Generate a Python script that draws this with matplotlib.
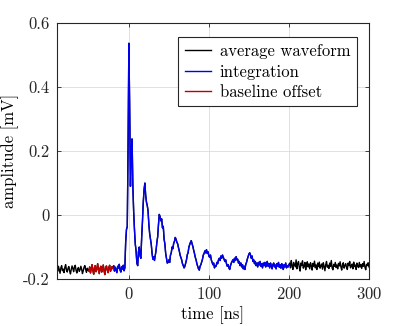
import numpy as np
import matplotlib
matplotlib.use('Agg')
import matplotlib.pyplot as plt

# sampled average waveform, 1 ns steps starting at t0
t0 = -90.0
dt = 1.0

amp_pre = [  # -90 .. -51 ns
    -0.168, -0.176, -0.160, -0.171, -0.182, -0.165, -0.158, -0.174, -0.169, -0.180,
    -0.163, -0.155, -0.172, -0.178, -0.166, -0.161, -0.175, -0.184, -0.170, -0.159,
    -0.167, -0.177, -0.162, -0.157, -0.173, -0.181, -0.168, -0.164, -0.176, -0.171,
    -0.160, -0.169, -0.183, -0.174, -0.163, -0.158, -0.170, -0.179, -0.166, -0.172,
]
amp_offset = [  # -50 .. -21 ns
    -0.175, -0.162, -0.181, -0.168, -0.155, -0.173, -0.185, -0.164, -0.158, -0.177,
    -0.170, -0.152, -0.169, -0.183, -0.166, -0.160, -0.178, -0.171, -0.156, -0.174,
    -0.186, -0.165, -0.159, -0.172, -0.180, -0.163, -0.157, -0.176, -0.168, -0.161,
]
amp_lead = [  # -20 .. -6 ns
    -0.167, -0.158, -0.175, -0.163, -0.171, -0.180, -0.160, -0.166, -0.154, -0.172,
    -0.178, -0.162, -0.169, -0.157, -0.174,
]
amp_pulse = [  # -5 .. 200 ns
    -0.165, -0.085, -0.045, -0.036, 0.210, 0.537, 0.340, 0.090, 0.205, 0.238,
    0.090, 0.010, -0.045, -0.090, -0.112, -0.150, -0.158, -0.115, -0.100, -0.128,
    -0.135, -0.070, -0.020, 0.040, 0.080, 0.100, 0.062, 0.040, 0.030, 0.012,
    -0.030, -0.058, -0.075, -0.092, -0.120, -0.138, -0.130, -0.142, -0.125, -0.110,
    -0.085, -0.068, -0.030, 0.002, -0.005, -0.018, -0.012, -0.040, -0.035, -0.075,
    -0.090, -0.120, -0.135, -0.150, -0.148, -0.140, -0.148, -0.125, -0.118, -0.100,
    -0.105, -0.088, -0.082, -0.070, -0.076, -0.085, -0.090, -0.102, -0.112, -0.125,
    -0.132, -0.140, -0.152, -0.158, -0.165, -0.160, -0.150, -0.140, -0.124, -0.118,
    -0.100, -0.092, -0.085, -0.080, -0.090, -0.098, -0.110, -0.120, -0.132, -0.140,
    -0.152, -0.160, -0.168, -0.172, -0.160, -0.155, -0.146, -0.138, -0.125, -0.120,
    -0.112, -0.118, -0.108, -0.120, -0.115, -0.128, -0.132, -0.125, -0.140, -0.148,
    -0.155, -0.150, -0.165, -0.158, -0.160, -0.148, -0.152, -0.140, -0.135, -0.142,
    -0.128, -0.135, -0.125, -0.132, -0.138, -0.145, -0.140, -0.152, -0.160, -0.155,
    -0.165, -0.170, -0.158, -0.150, -0.145, -0.140, -0.148, -0.135, -0.142, -0.130,
    -0.140, -0.138, -0.150, -0.145, -0.158, -0.150, -0.162, -0.155, -0.168, -0.160,
    -0.170, -0.155, -0.148, -0.138, -0.130, -0.122, -0.118, -0.125, -0.135, -0.128,
    -0.145, -0.140, -0.152, -0.145, -0.158, -0.150, -0.162, -0.148, -0.156, -0.145,
    -0.160, -0.152, -0.165, -0.150, -0.158, -0.148, -0.162, -0.155, -0.145, -0.160,
    -0.152, -0.165, -0.150, -0.158, -0.168, -0.155, -0.150, -0.162, -0.156, -0.168,
    -0.152, -0.160, -0.148, -0.163, -0.155, -0.166, -0.152, -0.160, -0.170, -0.155,
    -0.162, -0.150, -0.165, -0.158, -0.162, -0.155,
]
amp_tail = [  # 201 .. 300 ns
    -0.150, -0.165, -0.142, -0.158, -0.170, -0.148, -0.155, -0.162, -0.140, -0.168,
    -0.152, -0.145, -0.163, -0.175, -0.150, -0.158, -0.143, -0.166, -0.160, -0.148,
    -0.171, -0.155, -0.146, -0.162, -0.153, -0.168, -0.149, -0.158, -0.172, -0.151,
    -0.160, -0.144, -0.165, -0.156, -0.170, -0.150, -0.161, -0.147, -0.166, -0.158,
    -0.153, -0.169, -0.149, -0.160, -0.174, -0.155, -0.145, -0.163, -0.157, -0.167,
    -0.150, -0.160, -0.142, -0.165, -0.171, -0.154, -0.160, -0.148, -0.164, -0.156,
    -0.168, -0.151, -0.159, -0.146, -0.162, -0.172, -0.155, -0.149, -0.166, -0.158,
    -0.152, -0.163, -0.170, -0.150, -0.158, -0.145, -0.165, -0.160, -0.153, -0.168,
    -0.147, -0.161, -0.156, -0.170, -0.150, -0.159, -0.164, -0.148, -0.162, -0.155,
    -0.167, -0.152, -0.160, -0.145, -0.163, -0.171, -0.154, -0.158, -0.149, -0.162,
]

offset_window = (-50, -20)
integ_window = (-20, 200)

amp = np.array(amp_pre + amp_offset + amp_lead + amp_pulse + amp_tail)
t = t0 + dt * np.arange(len(amp))

plt.rcParams['font.family'] = 'serif'
plt.rcParams['font.serif'] = ['cmr10']
plt.rcParams['mathtext.fontset'] = 'cm'
plt.rcParams['axes.formatter.use_mathtext'] = True
plt.rcParams['font.size'] = 12

fig = plt.figure(figsize=(4.09, 3.26), dpi=100)
ax = fig.add_axes([0.139, 0.144, 0.763, 0.785])

m_off = (t >= offset_window[0]) & (t <= offset_window[1])
m_int = (t >= integ_window[0]) & (t <= integ_window[1])

ax.plot(t, amp, color='k', lw=1.0, label='average waveform')
ax.plot(t[m_int], amp[m_int], color='#0000ee', lw=1.0, label='integration')
ax.plot(t[m_off], amp[m_off], color='#c00000', lw=1.0, label='baseline offset')

ax.set_xlim(-90, 300)
ax.set_ylim(-0.2, 0.6)
ax.set_xticks([0, 100, 200, 300])
ax.set_yticks([-0.2, 0, 0.2, 0.4, 0.6])
ax.set_yticklabels(['-0.2', '0', '0.2', '0.4', '0.6'])
ax.grid(True, color='#dcdcdc', lw=0.6)
ax.set_axisbelow(True)
ax.tick_params(direction='in', top=True, right=True, length=3, width=0.6, colors='#262626', pad=5)
for s in ax.spines.values():
    s.set_linewidth(0.8)
    s.set_color('#262626')

ax.set_xlabel('time [ns]', labelpad=3)
ax.set_ylabel('amplitude [mV]', labelpad=3)

leg = ax.legend(loc='upper right', bbox_to_anchor=(0.962, 0.945), borderaxespad=0,
                fancybox=False, edgecolor='#262626', framealpha=1, handlelength=1.6,
                handletextpad=0.5, labelspacing=0.3, borderpad=0.4)
leg.get_frame().set_linewidth(0.8)

fig.savefig('out.png', dpi=100)
